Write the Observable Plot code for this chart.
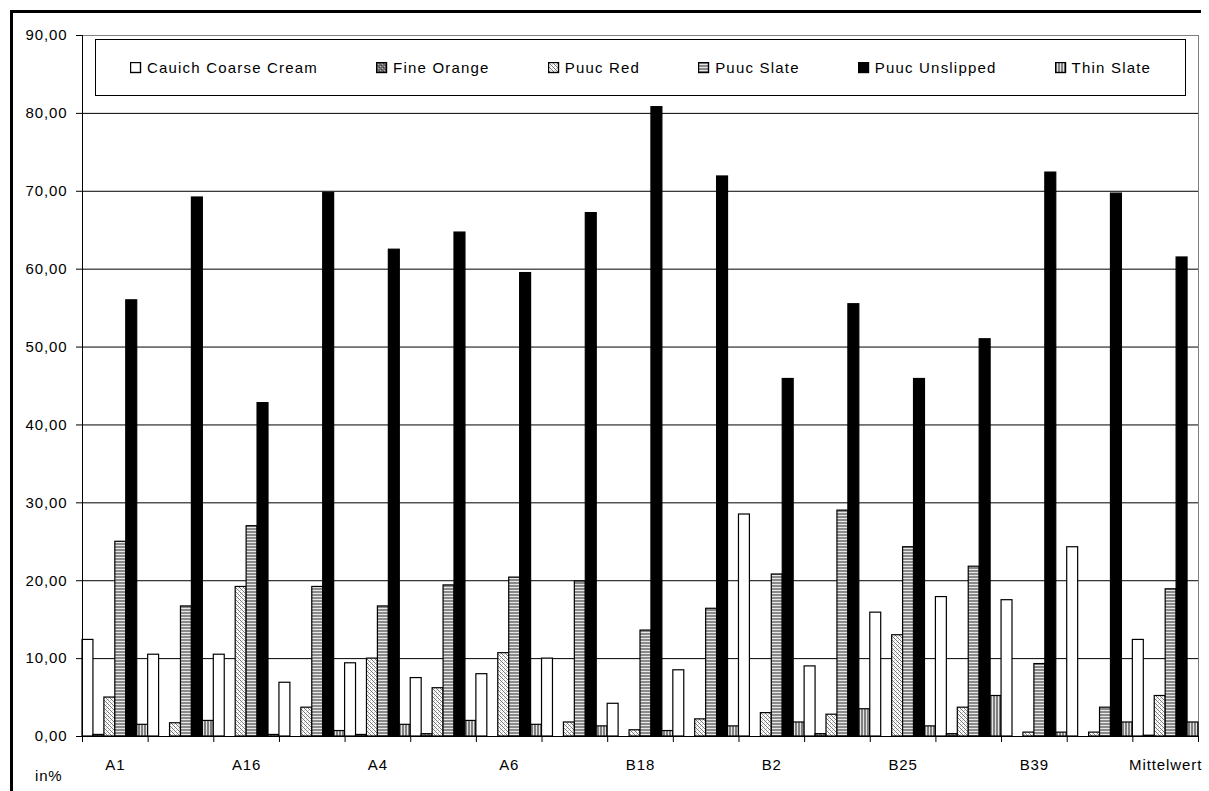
<!DOCTYPE html>
<html>
<head>
<meta charset="utf-8">
<script src="https://cdn.jsdelivr.net/npm/d3@7"></script>
<script src="https://cdn.jsdelivr.net/npm/@observablehq/plot@0.6"></script>
<style>
  body { margin: 0; background: #fff; font-family: "Liberation Sans", Arial, sans-serif; }
  #wrap { position: relative; width: 1209px; height: 791px; overflow: hidden; background: #fff; }
  #chart { position: absolute; left: 0; top: 0; }
  #border { position: absolute; left: 10px; top: 10px; width: 1188px; height: 800px;
            border-left: 3px solid #000; border-top: 3px solid #000; pointer-events: none; }
  #legend { position: absolute; left: 95px; top: 39px; width: 1089px; height: 55px;
            border: 1px solid #000; background: #fff; display: flex; align-items: center;
            justify-content: center; gap: 58px; font-size: 15px; letter-spacing: 1.2px; color: #000; }
  .item { display: flex; align-items: center; white-space: nowrap; }
  .item svg { margin-right: 5px; }
  #unit { position: absolute; left: 35px; top: 767px; font-size: 15px; letter-spacing: 0.8px; color: #000; }
</style>
</head>
<body>
<div id="wrap">
  <svg width="0" height="0" style="position:absolute">
    <defs>
      <pattern id="pFO" patternUnits="userSpaceOnUse" width="4" height="4">
        <rect width="4" height="4" fill="#6e6e6e"/>
        <rect x="0" y="0" width="1" height="1" fill="#b4b4b4"/>
        <rect x="2" y="2" width="1" height="1" fill="#b4b4b4"/>
        <rect x="1" y="3" width="1" height="1" fill="#3c3c3c"/>
        <rect x="3" y="1" width="1" height="1" fill="#3c3c3c"/>
      </pattern>
      <pattern id="pPR" patternUnits="userSpaceOnUse" width="4" height="4">
        <rect width="4" height="4" fill="#ffffff"/>
        <rect x="0" y="0" width="1" height="1" fill="#7a7a7a"/>
        <rect x="1" y="1" width="1" height="1" fill="#7a7a7a"/>
        <rect x="2" y="2" width="1" height="1" fill="#7a7a7a"/>
        <rect x="3" y="3" width="1" height="1" fill="#7a7a7a"/>
        <rect x="2" y="0" width="1" height="1" fill="#c8c8c8"/>
        <rect x="0" y="2" width="1" height="1" fill="#c8c8c8"/>
      </pattern>
      <pattern id="pPS" patternUnits="userSpaceOnUse" width="3" height="3">
        <rect width="3" height="3" fill="#e8e8e8"/>
        <rect x="0" y="0" width="3" height="2" fill="#8a8a8a"/>
      </pattern>
      <pattern id="pTS" patternUnits="userSpaceOnUse" width="3" height="3">
        <rect width="3" height="3" fill="#e4e4e4"/>
        <rect x="0" y="0" width="2" height="3" fill="#808080"/>
      </pattern>
    </defs>
  </svg>
  <div id="chart"></div>
  <div id="legend"></div>
  <div id="unit">in%</div>
  <div id="border"></div>
</div>
<script>
// Categories (only every second label is shown, as in the original)
const groups = ["A1", "A10", "A16", "A3", "A4", "A5", "A6", "B1", "B18", "B19", "B2", "B20", "B25", "B3", "B39", "B4", "Mittelwert"];
const seriesNames = ["Cauich Coarse Cream", "Fine Orange", "Puuc Red", "Puuc Slate", "Puuc Unslipped", "Thin Slate"];
const seriesFills = ["#ffffff", "url(#pFO)", "url(#pPR)", "url(#pPS)", "#000000", "url(#pTS)"];

// Series values (in %)
const cauichCoarseCream = [12.4, 10.5, 10.5, 6.9, 9.4, 7.5, 8.0, 10.0, 4.2, 8.5, 28.5, 9.0, 15.9, 17.9, 17.5, 24.3, 12.4];
const fineOrange        = [0.2, 0.0, 0.0, 0.0, 0.2, 0.3, 0.0, 0.0, 0.0, 0.0, 0.0, 0.3, 0.0, 0.3, 0.0, 0.0, 0.1];
const puucRed           = [5.0, 1.7, 19.2, 3.7, 10.0, 6.2, 10.7, 1.8, 0.8, 2.2, 3.0, 2.8, 13.0, 3.7, 0.5, 0.5, 5.2];
const puucSlate         = [25.0, 16.7, 27.0, 19.2, 16.7, 19.4, 20.4, 19.9, 13.6, 16.4, 20.8, 29.0, 24.3, 21.8, 9.3, 3.7, 18.9];
const puucUnslipped     = [56.0, 69.2, 42.8, 69.8, 62.5, 64.7, 59.5, 67.2, 80.8, 71.9, 45.9, 55.5, 45.9, 51.0, 72.4, 69.7, 61.5];
const thinSlate         = [1.5, 2.0, 0.2, 0.7, 1.5, 2.0, 1.5, 1.3, 0.7, 1.3, 1.8, 3.5, 1.3, 5.2, 0.5, 1.8, 1.8];

// Y-axis ticks
const yTicks = [0, 10, 20, 30, 40, 50, 60, 70, 80, 90];

const seriesValues = [cauichCoarseCream, fineOrange, puucRed, puucSlate, puucUnslipped, thinSlate];
const nS = seriesNames.length;
const rows = groups.flatMap((g, gi) => seriesNames.map((s, si) => ({
  group: g, gi, series: s, si, value: seriesValues[si][gi]
})));

const fmt = d => d.toFixed(2).replace(".", ",");

const chart = Plot.plot({
  width: 1209,
  height: 791,
  marginLeft: 82,
  marginRight: 11,
  marginTop: 35,
  marginBottom: 55,
  style: { fontFamily: '"Liberation Sans", Arial, sans-serif', fontSize: "15px", color: "#000", background: "transparent", letterSpacing: "0.9px" },
  x: { domain: [0, groups.length] },
  y: { domain: [0, 90] },
  color: { type: "ordinal", domain: seriesNames, range: seriesFills },
  marks: [
    Plot.gridY(yTicks.filter(t => t > 0 && t < 90), { stroke: "#000", strokeOpacity: 1 }),
    Plot.frame({ stroke: "#808080" }),
    Plot.rectY(rows, {
      x1: d => d.gi + d.si / nS,
      x2: d => d.gi + (d.si + 1) / nS,
      y: "value",
      fill: "series",
      stroke: "#000",
      strokeWidth: 1.2
    }),
    Plot.ruleY([0], { stroke: "#000" }),
    Plot.ruleX([0], { stroke: "#000" }),
    Plot.axisY({ ticks: yTicks, tickSize: 6, tickPadding: 9, tickFormat: fmt, label: null, stroke: "#000" }),
    Plot.axisX({ ticks: d3.range(0, groups.length + 1), tickSize: 6, tickFormat: () => "", label: null, stroke: "#000" }),
    Plot.axisX({
      ticks: d3.range(0, groups.length, 2).map(i => i + 0.5),
      tickSize: 0, tickPadding: 23,
      tickFormat: v => groups[Math.floor(v)],
      label: null
    })
  ]
});
document.getElementById("chart").appendChild(chart);

// Legend
const legend = document.getElementById("legend");
seriesNames.forEach((s, i) => {
  const item = document.createElement("div");
  item.className = "item";
  item.innerHTML = `<svg width="12" height="12"><rect x="0.5" y="0.5" width="10" height="10" fill="${seriesFills[i]}" stroke="#000" stroke-width="1.4"/></svg><span>${s}</span>`;
  legend.appendChild(item);
});
</script>
</body>
</html>
